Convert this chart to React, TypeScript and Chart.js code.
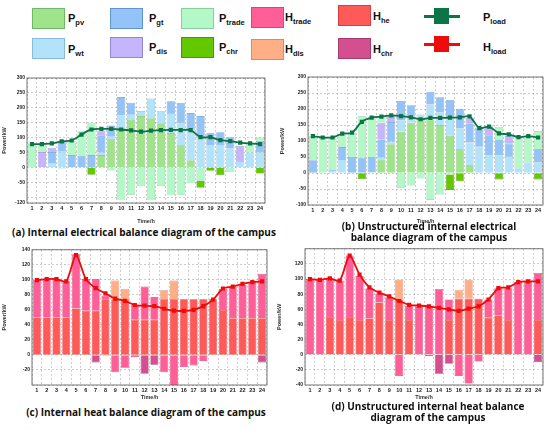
import React, { useRef, useEffect } from "react";
import Chart from "chart.js/auto";

const hours = ["1", "2", "3", "4", "5", "6", "7", "8", "9", "10", "11", "12", "13", "14", "15", "16", "17", "18", "19", "20", "21", "22", "23", "24"];

// (a) electrical balance, structured
const aPpv = [0, 0, 0, 0, 0, 0, 0, 41, 95, 125, 159, 172, 165, 148, 115, 75, 24, 0, 0, 0, 0, 0, 0, 0];
const aPwt = [0, 0, 12, 52, 0, 0, 0, 9, 8, 49, 19, 17, 66, 40, 67, 77, 105, 102, 75, 75, 64, 21, 50, 50];
const aPgt = [0, 0, 39, 35, 41, 38, 41, 58, 37, 62, 39, 0, 0, 0, 40, 64, 53, 70, 39, 43, 39, 0, 0, 39];
const aPdis = [0, 51, 14, 0, 0, 0, 0, 15, 0, 0, 0, 0, 0, 0, 0, 0, 0, 0, 0, 0, 0, 51, 0, 0];
const aPtrade = [79, 26, 0, -4, 48, 84, 109, 0, -11, -109, -92, -63, -109, -63, -94, -92, -54, -46, 0, 0, -16, 0, 30, 11];
const aPchr = [0, 0, 0, 0, 0, 0, -25, 0, 0, 0, 0, 0, 0, 0, 0, 0, 0, -23, -12, -26, 0, 0, 0, -21];
const aPload = [78, 78, 80, 87, 90, 110, 127, 129, 129, 127, 124, 120, 123, 125, 126, 125, 125, 101, 101, 91, 88, 83, 80, 78];

// (b) electrical balance, unstructured
const bPpv = [0, 0, 0, 0, 0, 0, 0, 41, 90, 129, 157, 170, 167, 149, 116, 74, 24, 0, 0, 0, 0, 0, 0, 0];
const bPwt = [0, 0, 9, 41, 0, 0, 2, 9, 8, 36, 16, 13, 48, 41, 59, 66, 71, 82, 55, 55, 53, 15, 33, 33];
const bPgt = [40, 0, 0, 40, 50, 48, 48, 55, 61, 60, 39, 0, 39, 47, 52, 59, 60, 60, 63, 50, 39, 0, 0, 41];
const bPdis = [0, 0, 0, 0, 0, 0, 0, 52, 21, 0, 0, 0, 0, 0, 0, 0, 18, 0, 27, 0, 24, 0, 0, 0];
const bPtrade = [76, 109, 101, 42, 76, 129, 126, 19, 0, -46, -39, -17, -84, -67, -5, 0, 0, 0, 0, 39, 0, 95, 83, 57];
const bPchr = [0, 0, 0, 0, 0, -19, 0, 0, 0, 0, 0, 0, 0, 0, -48, -26, 0, 0, 0, -20, 0, 0, 0, -20];
const bPload = [115, 111, 111, 123, 126, 160, 173, 176, 180, 178, 174, 168, 172, 172, 173, 174, 177, 140, 145, 124, 121, 112, 115, 111];

// (c) heat balance, structured
const cHhe = [50, 50, 50, 50, 62, 59, 59, 74, 74, 74, 47, 47, 47, 74, 74, 74, 74, 74, 74, 60, 49, 49, 49, 49];
const cHtrade = [50, 51, 51, 48, 72, 42, 42, 5, -23, -17, 20, 44, 30, -23, -45, -16, -14, -8, 0, 28, 42, 44, 48, 59];
const cHdis = [0, 0, 0, 0, 0, 0, 0, 0, 25, 14, 0, 0, 0, 12, 25, 0, 0, 0, 0, 0, 0, 0, 0, 0];
const cHchr = [0, 0, 0, 0, 0, 0, -10, -1, 0, 0, -3, -25, -13, 0, 0, 0, 0, 0, 0, 0, 0, 0, 0, -10];
const cHload = [99.5, 101, 101, 98, 133, 101, 89, 82, 75, 72, 66.5, 65.6, 65, 61.5, 59, 58.6, 60, 65, 73.6, 88.5, 91, 94.7, 97, 98];

// (d) heat balance, unstructured
const dHhe = [0, 0, 50, 46, 50, 46, 48, 69, 46, 73, 46, 0, 0, 0, 46, 74, 74, 74, 49, 52, 46, 0, 0, 46];
const dHtrade = [100, 99, 50, 52, 81, 58, 40, 12, 30, -28, 19, 64, 64, 87, 27, -28, -38, -9, 24, 36, 42, 96, 97, 62];
const dHdis = [0, 0, 0, 0, 0, 0, 0, 0, 0, 26, 0, 0, 0, 0, 0, 12, 25, 0, 0, 0, 0, 0, 0, 0];
const dHchr = [0, 0, 0, 0, 0, 0, 0, 0, 0, 0, 0, 0, -2, -25, -12, 0, 0, 0, 0, 0, 0, 0, 0, -10];
const dHload = [100, 99, 101, 98, 131, 106, 89, 82, 77, 71, 66, 65, 64, 62, 60, 58, 61, 64, 73, 88, 89, 96, 97, 97];

const elecTicks = [-120, -100, -50, 0, 50, 100, 150, 200, 250, 300];
const elecTicksB = [-100, -50, 0, 50, 100, 150, 200, 250, 300];
const heatTicks = [-40, -20, 0, 20, 40, 60, 80, 100, 120, 140];

const C = {
  pv: ["#9fe38a", "#6fb866"],
  wt: ["#b3e3fa", "#86bcdc"],
  gt: ["#93c3f7", "#5f95c8"],
  dis: ["#c5b5fb", "#9585d2"],
  trade: ["#b3f8c6", "#87cf9e"],
  chr: ["#64c800", "#4a9800"],
  htrade: ["#ff5e97", "#d9467a"],
  hdis: ["#ffae86", "#d88a64"],
  hhe: ["#ff5a5a", "#d84040"],
  hchr: ["#d44f8f", "#a83a6c"],
  pload: "#0b7548",
  hload: "#ee0b0b",
};

const FONT = "'Liberation Sans', Arial, sans-serif";

const bar = (label: string, data: number[], c: string[]) => ({
  type: "bar",
  label,
  data,
  backgroundColor: c[0],
  borderColor: c[1],
  borderWidth: 0.6,
  stack: "s",
  order: 1,
  barPercentage: 0.82,
  categoryPercentage: 1,
});

const line = (label: string, data: number[], color: string) => ({
  type: "line",
  label,
  data,
  borderColor: color,
  backgroundColor: color,
  borderWidth: 1.8,
  pointStyle: "rect",
  pointRadius: 1.7,
  tension: 0.25,
  stack: "line",
  order: 0,
});

const framePlugin = {
  id: "frame",
  afterDraw(chart: any) {
    const { ctx, chartArea: a } = chart;
    ctx.save();
    ctx.strokeStyle = "#555";
    ctx.lineWidth = 0.8;
    ctx.strokeRect(a.left, a.top, a.right - a.left, a.bottom - a.top);
    ctx.restore();
  },
};

interface PanelProps {
  left: number;
  top: number;
  width: number;
  height: number;
  padTop: number;
  padRight: number;
  yWidth: number;
  xHeight: number;
  ticks: number[];
  hidden: number[];
  datasets: any[];
}

const Panel: React.FC<PanelProps> = (p) => {
  const ref = useRef<HTMLCanvasElement | null>(null);

  useEffect(() => {
    if (!ref.current) return;
    const gridColor = "#9a9a9a";
    const tickFont = { size: 5.5, weight: "bold" as const, family: FONT };
    const chart = new Chart(ref.current, {
      type: "bar",
      data: { labels: hours, datasets: p.datasets },
      options: {
        animation: false,
        responsive: true,
        maintainAspectRatio: false,
        layout: { padding: { top: p.padTop, right: p.padRight, left: 0, bottom: 0 } },
        plugins: { legend: { display: false }, tooltip: { enabled: false } },
        scales: {
          x: {
            stacked: true,
            grid: { color: gridColor, lineWidth: 0.5, drawTicks: false, offset: true },
            border: { display: false, dash: [2, 2] },
            ticks: { font: tickFont, color: "#222", padding: 2, maxRotation: 0, autoSkip: false },
            title: { display: true, text: "Time/h", font: { size: 5.5, weight: "bold", family: FONT }, color: "#333", padding: 0 },
            afterFit: (s: any) => {
              s.height = p.xHeight;
            },
          },
          y: {
            stacked: true,
            min: p.ticks[0],
            max: p.ticks[p.ticks.length - 1],
            afterBuildTicks: (s: any) => {
              s.ticks = p.ticks.map((v) => ({ value: v }));
            },
            grid: { color: gridColor, lineWidth: 0.5, drawTicks: false },
            border: { display: false, dash: [2, 2] },
            ticks: {
              font: { size: 5, weight: "bold", family: FONT },
              color: "#222",
              padding: 2,
              callback: (v: any) => (p.hidden.includes(Number(v)) ? "" : String(v)),
            },
            title: { display: true, text: "Power/kW", font: { size: 5.5, weight: "bold", family: FONT }, color: "#333", padding: 1 },
            afterFit: (s: any) => {
              s.width = p.yWidth;
            },
          },
        },
      } as any,
      plugins: [framePlugin],
    });
    return () => {
      chart.destroy();
    };
  }, []);

  return (
    <div style={{ position: "absolute", left: p.left, top: p.top, width: p.width, height: p.height }}>
      <canvas ref={ref}></canvas>
    </div>
  );
};

const LegendBox: React.FC<{ x: number; y: number; color: string[] }> = ({ x, y, color }) => (
  <div
    style={{
      position: "absolute",
      left: x,
      top: y,
      width: 31,
      height: 19,
      background: color[0],
      border: `1px solid ${color[1]}`,
    }}
  />
);

const LegendLine: React.FC<{ x: number; y: number; color: string }> = ({ x, y, color }) => (
  <>
    <div style={{ position: "absolute", left: x, top: y - 1.5, width: 36, height: 3, background: color }} />
    <div style={{ position: "absolute", left: x + 10, top: y - 8, width: 15, height: 16, background: color }} />
  </>
);

const LegendText: React.FC<{ x: number; y: number; main: string; sub: string }> = ({ x, y, main, sub }) => (
  <div
    style={{
      position: "absolute",
      left: x,
      top: y - 8,
      fontFamily: FONT,
      fontWeight: "bold",
      fontSize: 11,
      lineHeight: "16px",
      color: "#111",
      whiteSpace: "nowrap",
    }}
  >
    {main}
    <span style={{ fontSize: 7.5, position: "relative", top: 2.5 }}>{sub}</span>
  </div>
);

const captionStyle: React.CSSProperties = {
  position: "absolute",
  fontFamily: "'Open Sans', sans-serif",
  fontWeight: "bold",
  fontSize: 10,
  lineHeight: "11px",
  color: "#111",
  textAlign: "center",
  whiteSpace: "nowrap",
};

export default function App() {
  const elecSets = (pv: number[], wt: number[], gt: number[], dis: number[], tr: number[], chr: number[], load: number[]) => [
    bar("Ppv", pv, C.pv),
    bar("Pwt", wt, C.wt),
    bar("Pgt", gt, C.gt),
    bar("Pdis", dis, C.dis),
    bar("Ptrade", tr, C.trade),
    bar("Pchr", chr, C.chr),
    line("Pload", load, C.pload),
  ];
  const heatSets = (he: number[], tr: number[], dis: number[], chr: number[], load: number[]) => [
    bar("Hhe", he, C.hhe),
    bar("Htrade", tr, C.htrade),
    bar("Hdis", dis, C.hdis),
    bar("Hchr", chr, C.hchr),
    line("Hload", load, C.hload),
  ];

  return (
    <div style={{ position: "absolute", left: 0, top: 0, width: 550, height: 430, background: "#fff", overflow: "hidden" }}>
      {/* legend */}
      <LegendBox x={32} y={8} color={C.pv} />
      <LegendText x={68} y={18} main="P" sub="pv" />
      <LegendBox x={110} y={8} color={C.gt} />
      <LegendText x={149} y={18} main="P" sub="gt" />
      <LegendBox x={181} y={8} color={C.trade} />
      <LegendText x={219} y={18} main="P" sub="trade" />
      <LegendBox x={251} y={7} color={C.htrade} />
      <LegendText x={285} y={17} main="H" sub="trade" />
      <LegendBox x={338} y={5} color={C.hhe} />
      <LegendText x={373} y={16} main="H" sub="he" />
      <LegendLine x={424} y={16} color={C.pload} />
      <LegendText x={483} y={17} main="P" sub="load" />

      <LegendBox x={32} y={38} color={C.wt} />
      <LegendText x={68} y={49} main="P" sub="wt" />
      <LegendBox x={110} y={37} color={C.dis} />
      <LegendText x={149} y={47} main="P" sub="dis" />
      <LegendBox x={181} y={37} color={C.chr} />
      <LegendText x={219} y={47} main="P" sub="chr" />
      <LegendBox x={251} y={39} color={C.hdis} />
      <LegendText x={285} y={49} main="H" sub="dis" />
      <LegendBox x={338} y={38} color={C.hchr} />
      <LegendText x={373} y={49} main="H" sub="chr" />
      <LegendLine x={424} y={44} color={C.hload} />
      <LegendText x={483} y={47} main="H" sub="load" />

      <Panel left={0} top={70} width={275} height={155} padTop={8} padRight={10} yWidth={27} xHeight={22}
        ticks={elecTicks} hidden={[-100]}
        datasets={elecSets(aPpv, aPwt, aPgt, aPdis, aPtrade, aPchr, aPload)} />
      <Panel left={278} top={69} width={272} height={156} padTop={8} padRight={7} yWidth={30} xHeight={20}
        ticks={elecTicksB} hidden={[]}
        datasets={elecSets(bPpv, bPwt, bPgt, bPdis, bPtrade, bPchr, bPload)} />
      <Panel left={0} top={244} width={275} height={157} padTop={4} padRight={8} yWidth={32} xHeight={16}
        ticks={heatTicks} hidden={[-40]}
        datasets={heatSets(cHhe, cHtrade, cHdis, cHchr, cHload)} />
      <Panel left={275} top={243} width={275} height={158} padTop={4} padRight={7} yWidth={30} xHeight={16}
        ticks={heatTicks} hidden={[140]}
        datasets={heatSets(dHhe, dHtrade, dHdis, dHchr, dHload)} />

      <div style={{ ...captionStyle, left: 0, width: 288, top: 227 }}>(a) Internal electrical balance diagram of the campus</div>
      <div style={{ ...captionStyle, left: 300, width: 258, top: 221 }}>
        (b) Unstructured internal electrical
        <br />
        balance diagram of the campus
      </div>
      <div style={{ ...captionStyle, left: 0, width: 292, top: 407 }}>(c) Internal heat balance diagram of the campus</div>
      <div style={{ ...captionStyle, left: 300, width: 256, top: 401 }}>
        (d) Unstructured internal heat balance
        <br />
        diagram of the campus
      </div>
    </div>
  );
}
